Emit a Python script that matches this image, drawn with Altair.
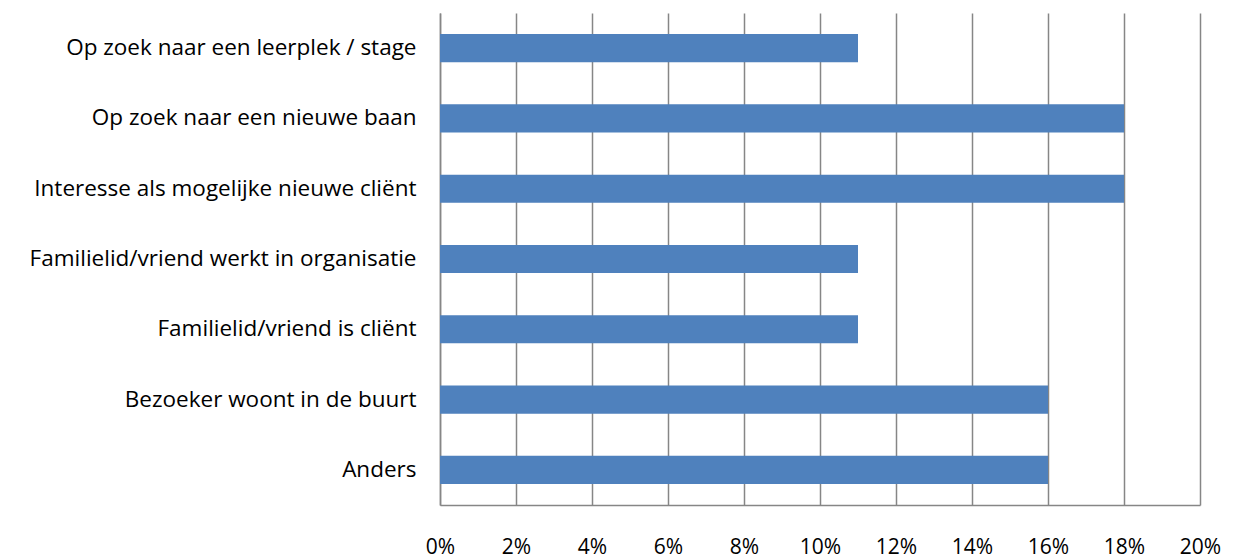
import altair as alt
import pandas as pd

categories = [
    "Op zoek naar een leerplek / stage",
    "Op zoek naar een nieuwe baan",
    "Interesse als mogelijke nieuwe cliënt",
    "Familielid/vriend werkt in organisatie",
    "Familielid/vriend is cliënt ",
    "Bezoeker woont in de buurt",
    "Anders",
]
values = [0.11, 0.18, 0.18, 0.11, 0.11, 0.16, 0.16]
tick_values = [0, 0.02, 0.04, 0.06, 0.08, 0.10, 0.12, 0.14, 0.16, 0.18, 0.20]

df = pd.DataFrame({"cat": categories, "val": values})

font = "Open Sans"
chart = alt.Chart(df).mark_bar(color="#4F81BD").encode(
    x=alt.X("val:Q", scale=alt.Scale(domain=[0, 0.2], nice=False),
            axis=alt.Axis(values=tick_values, format=".0%", title=None, grid=True,
                          gridColor="#868686", gridWidth=1.5, domainColor="#868686",
                          domainWidth=1.5, ticks=False, labelPadding=31,
                          labelFlush=False, labelOverlap=False,
                          labelFontSize=21, labelFont=font, labelColor="#000000")),
    y=alt.Y("cat:N", sort=categories,
            scale=alt.Scale(paddingInner=0.6, paddingOuter=0.3),
            axis=alt.Axis(title=None, ticks=False, domainColor="#868686", domainWidth=1.5,
                          labelPadding=24, labelFontSize=22.5, labelFont=font,
                          labelColor="#000000", labelLimit=500)),
).properties(
    width=760, height=492,
    autosize=alt.AutoSizeParams(type="none"),
    padding={"left": 432, "top": 5, "right": 27, "bottom": 53},
).configure_view(stroke=None)

chart.save("out.html", embed_options={"renderer": "svg", "actions": False})
